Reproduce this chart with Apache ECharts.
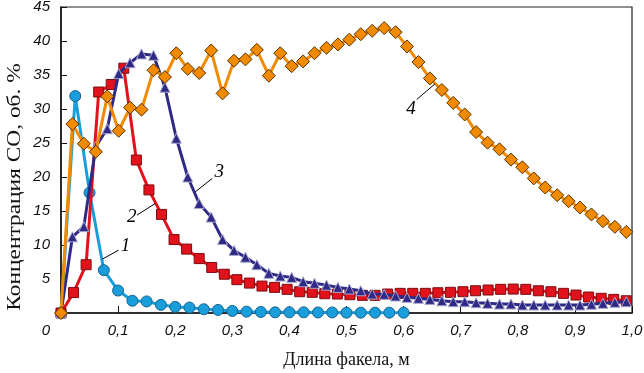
<!DOCTYPE html>
<html><head><meta charset="utf-8">
<script src="https://cdn.jsdelivr.net/npm/echarts@6/dist/echarts.min.js"></script>
<style>html,body{margin:0;padding:0;background:#fff}#c{width:644px;height:373px}</style>
</head><body><div id="c"></div>
<script>
// Series 1 (blue circles)
const s1X = [0, 0.025, 0.05, 0.075, 0.1, 0.125, 0.15, 0.175, 0.2, 0.225, 0.25, 0.275, 0.3, 0.325, 0.35, 0.375, 0.4, 0.425, 0.45, 0.475, 0.5, 0.525, 0.55, 0.575, 0.6];
const s1Y = [0, 31.9, 17.7, 6.3, 3.3, 1.8, 1.7, 1.2, 0.9, 0.8, 0.55, 0.45, 0.3, 0.2, 0.15, 0.1, 0.1, 0.1, 0.08, 0.08, 0.05, 0.05, 0.05, 0.05, 0.05];
// Series 2 (red squares)
const s2X = [0, 0.022, 0.044, 0.066, 0.088, 0.11, 0.132, 0.154, 0.176, 0.198, 0.22, 0.242, 0.264, 0.286, 0.308, 0.33, 0.352, 0.374, 0.396, 0.418, 0.44, 0.462, 0.484, 0.506, 0.528, 0.55, 0.572, 0.594, 0.616, 0.638, 0.66, 0.682, 0.704, 0.726, 0.748, 0.77, 0.792, 0.814, 0.836, 0.858, 0.88, 0.902, 0.924, 0.946, 0.968, 0.99];
const s2Y = [0, 3.0, 7.1, 32.5, 33.6, 36.0, 22.5, 18.1, 14.5, 10.8, 9.4, 8.0, 6.7, 5.7, 4.9, 4.4, 3.96, 3.77, 3.48, 3.13, 3.04, 2.84, 2.79, 2.69, 2.6, 2.6, 2.79, 2.89, 2.89, 2.89, 2.98, 3.04, 3.13, 3.27, 3.38, 3.48, 3.52, 3.48, 3.27, 3.13, 2.89, 2.64, 2.35, 2.16, 2.0, 1.8];
// Series 3 (indigo triangles) and 4 (orange diamonds) share x positions
const s34X = [0, 0.020, 0.040, 0.061, 0.081, 0.101, 0.121, 0.141, 0.162, 0.182, 0.202, 0.222, 0.242, 0.263, 0.283, 0.303, 0.323, 0.343, 0.364, 0.384, 0.404, 0.424, 0.444, 0.465, 0.485, 0.505, 0.525, 0.545, 0.566, 0.586, 0.606, 0.626, 0.646, 0.667, 0.687, 0.707, 0.727, 0.747, 0.768, 0.788, 0.808, 0.828, 0.848, 0.869, 0.889, 0.909, 0.929, 0.949, 0.970, 0.990];
const s3Y = [0, 11.2, 12.7, 24.5, 27.1, 35.2, 36.8, 38.1, 37.9, 33.2, 25.7, 20.0, 16.1, 14.1, 10.8, 9.2, 8.2, 7.1, 5.83, 5.43, 5.24, 4.6, 4.36, 4.1, 3.77, 3.52, 3.27, 2.79, 2.74, 2.5, 2.3, 2.16, 2.0, 1.8, 1.66, 1.66, 1.51, 1.42, 1.32, 1.32, 1.17, 1.17, 1.17, 1.17, 1.17, 1.17, 1.28, 1.42, 1.57, 1.66];
const s4Y = [0, 27.8, 24.9, 23.7, 31.85, 26.8, 30.2, 29.9, 35.7, 34.7, 38.2, 35.9, 35.3, 38.6, 32.3, 37.1, 37.3, 38.7, 34.9, 38.2, 36.3, 37.0, 38.2, 39.0, 39.5, 40.2, 41.0, 41.5, 41.9, 41.3, 39.2, 36.9, 34.5, 32.8, 30.9, 29.2, 26.6, 25.05, 24.07, 22.56, 21.43, 19.8, 18.45, 17.32, 16.44, 15.51, 14.49, 13.5, 12.67, 11.93];

const seriesNames = ['1', '2', '3', '4'];
const xTitle = 'Длина факела, м';
const yTitle = 'Концентрация СО, об. %';

const pairs = (xs, ys) => xs.map((x, i) => [x, ys[i]]);

const labelFont = {fontFamily: 'Liberation Serif', fontStyle: 'italic', fontSize: 19, color: '#000'};
function annot(name, lineFrom, lineTo, textAt) {
  return {
    markLine: {
      silent: true, animation: false, symbol: ['none', 'none'],
      lineStyle: {color: '#000', width: 1, type: 'solid'},
      label: {show: false}, emphasis: {disabled: true},
      data: [[{coord: lineFrom}, {coord: lineTo}]]
    },
    markPoint: {
      silent: true, animation: false, symbol: 'circle', symbolSize: 1,
      itemStyle: {color: 'rgba(0,0,0,0)'},
      label: Object.assign({show: true, position: 'inside', formatter: name}, labelFont),
      data: [{coord: textAt}]
    }
  };
}

function mk(name, data, color, symbol, size, border, z, an) {
  return Object.assign({
    name: name, type: 'line', data: data, z: z,
    symbol: symbol, symbolSize: size, showAllSymbol: true,
    lineStyle: {color: color, width: 3},
    itemStyle: {color: color, borderColor: border, borderWidth: 1},
    emphasis: {disabled: true}
  }, an);
}

const chart = echarts.init(document.getElementById('c'), null, {renderer: 'canvas'});
const tickFont = {fontFamily: 'Liberation Sans', fontStyle: 'italic', fontSize: 15, color: '#111'};
chart.setOption({
  animation: false,
  backgroundColor: '#fff',
  grid: {left: 61, right: 12, top: 7, bottom: 60, show: true, borderColor: '#222', borderWidth: 1.2, outerBoundsMode: 'none', containLabel: false},
  graphic: [{
    type: 'text', silent: true,
    x: 15, y: 187, rotation: Math.PI / 2, scaleX: 1.3,
    style: {text: yTitle, fontFamily: 'Liberation Serif', fontSize: 18, fill: '#111', align: 'center', verticalAlign: 'middle'}
  }],
  xAxis: {
    type: 'value', min: 0, max: 1, interval: 0.1,
    name: xTitle, nameLocation: 'middle', nameGap: 38,
    nameTextStyle: {fontFamily: 'Liberation Serif', fontSize: 18, color: '#111'},
    axisLine: {show: true, lineStyle: {color: '#111', width: 1.5}},
    axisTick: {show: true, inside: true, length: 7, lineStyle: {color: '#111', width: 1}},
    splitLine: {show: false},
    axisLabel: Object.assign({
      margin: 10, showMinLabel: true, showMaxLabel: true,
      formatter: v => v === 0 ? '{z|0}' : v.toFixed(1).replace('.', ','),
      rich: {z: Object.assign({padding: [0, 30, 0, 0]}, tickFont)}
    }, tickFont)
  },
  yAxis: {
    type: 'value', min: 0, max: 45, interval: 5,
    axisLine: {show: true, lineStyle: {color: '#111', width: 1.5}},
    axisTick: {show: true, inside: true, length: 6, lineStyle: {color: '#111', width: 1}},
    splitLine: {show: false},
    axisLabel: Object.assign({margin: 11, formatter: v => v === 0 ? '' : String(v)}, tickFont)
  },
  series: [
    mk(seriesNames[0], pairs(s1X, s1Y), '#1a9edb', 'circle', 11, '#16628f', 1,
       annot(seriesNames[0], [0.072, 7.9], [0.101, 9.25], [0.113, 9.8])),
    mk(seriesNames[1], pairs(s2X, s2Y), '#e1121c', 'rect', 10, '#7a0c10', 2,
       annot(seriesNames[1], [0.133, 14.4], [0.165, 16.1], [0.124, 14.1])),
    mk(seriesNames[2], pairs(s34X, s3Y), '#2e2a86', 'triangle', 10, '#a9a7cc', 3,
       annot(seriesNames[2], [0.235, 17.8], [0.265, 19.8], [0.277, 20.7])),
    mk(seriesNames[3], pairs(s34X, s4Y), '#f28a00', 'diamond', 13, '#5a3300', 4,
       annot(seriesNames[3], [0.623, 31.4], [0.655, 33.7], [0.613, 30.0]))
  ]
});
</script>
</body></html>
